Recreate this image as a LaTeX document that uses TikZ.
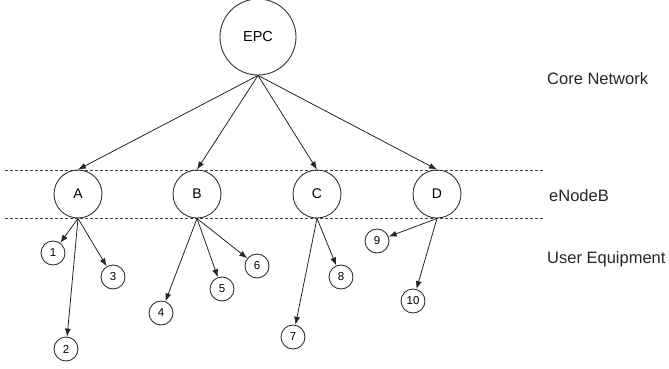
\documentclass[tikz,border=0pt]{standalone}
\usepackage{fontspec}
\setmainfont{Liberation Sans}
\usetikzlibrary{arrows.meta}
\begin{document}
\begin{tikzpicture}[x=1pt,y=-1pt,
  bigc/.style={circle,draw=black!80,line width=0.9pt,minimum size=76pt,inner sep=0pt,font=\fontsize{14.5}{17}\selectfont},
  midc/.style={circle,draw=black!80,line width=0.9pt,minimum size=48pt,inner sep=0pt,font=\fontsize{14}{16}\selectfont},
  uec/.style={circle,draw=black!80,line width=0.9pt,minimum size=24pt,inner sep=0pt,font=\fontsize{11.5}{13}\selectfont},
  arr/.style={draw=black!85,line width=0.8pt,-{Latex[length=8pt,width=6pt]}},
  sep/.style={draw=black!75,line width=0.9pt,dash pattern=on 3pt off 2pt},
  lab/.style={anchor=west,inner sep=0pt,font=\fontsize{16.5}{19}\selectfont,text=black!85}]
\useasboundingbox (0,0) rectangle (669,368);
\coordinate (s1a) at (5,170);
\coordinate (s1b) at (545,170);
\coordinate (s2a) at (5,218);
\coordinate (s2b) at (545,218);
\draw[sep] (s1a) -- (s1b);
\draw[sep] (s2a) -- (s2b);
\node[bigc] (epc) at (258,37) {EPC};
\node[midc] (A) at (78,194) {A};
\node[midc] (B) at (197,194) {B};
\node[midc] (C) at (317,194) {C};
\node[midc] (D) at (437,194) {D};
\node[uec] (u1) at (53,253) {1};
\node[uec] (u2) at (66,349) {2};
\node[uec] (u3) at (113,277) {3};
\node[uec] (u4) at (161,313) {4};
\node[uec] (u5) at (222,289) {5};
\node[uec] (u6) at (257,266) {6};
\node[uec] (u7) at (293,337) {7};
\node[uec] (u8) at (341,277) {8};
\node[uec] (u9) at (377,241) {9};
\node[uec] (u10) at (413,301) {10};
\draw[arr] (epc.south) -- (A.north);
\draw[arr] (epc.south) -- (B.north);
\draw[arr] (epc.south) -- (C.north);
\draw[arr] (epc.south) -- (D.north);
\draw[arr] (A.south) -- (u1);
\draw[arr] (A.south) -- (u2);
\draw[arr] (A.south) -- (u3);
\draw[arr] (B.south) -- (u4);
\draw[arr] (B.south) -- (u5);
\draw[arr] (B.south) -- (u6);
\draw[arr] (C.south) -- (u7);
\draw[arr] (C.south) -- (u8);
\draw[arr] (D.south) -- (u9);
\draw[arr] (D.south) -- (u10);
\node[lab] (core) at (547,79) {Core Network};
\node[lab] (enb) at (549,196) {eNodeB};
\node[lab] (ue) at (547,259) {User Equipment};
\end{tikzpicture}
\end{document}
